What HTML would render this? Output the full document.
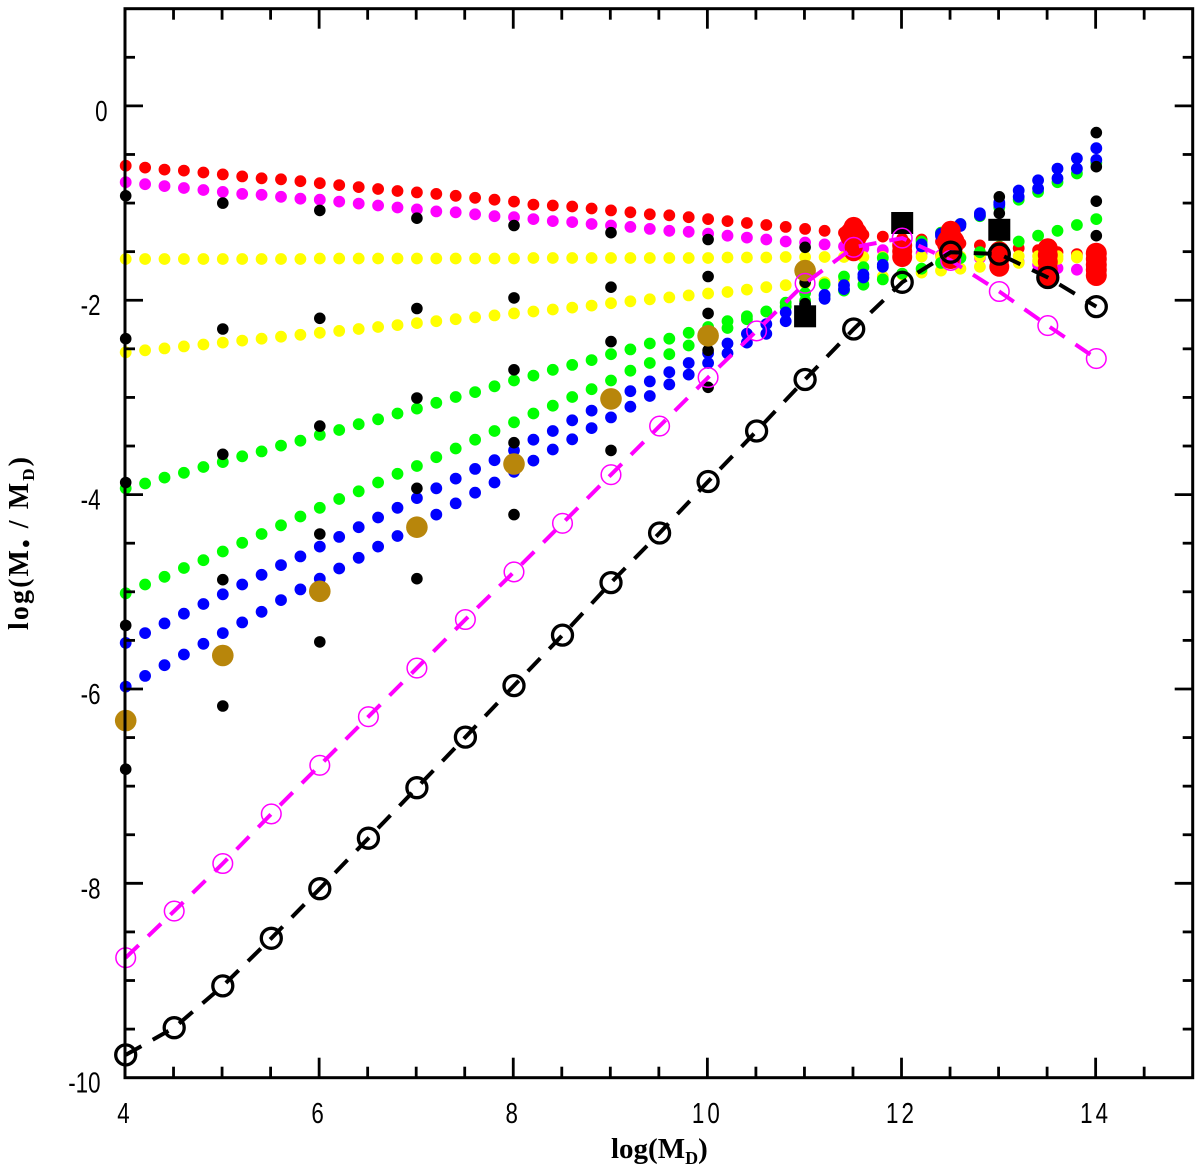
<!DOCTYPE html>
<html lang="en">
<head>
<meta charset="utf-8">
<title>log(Ms / MD) versus log(MD)</title>
<style>
html,body{margin:0;padding:0;background:#fff;}
#chart{display:block;width:1200px;height:1172px;background:#fff;}
</style>
</head>
<body>
<svg id="chart" xmlns="http://www.w3.org/2000/svg" width="1200" height="1172" viewBox="0 0 1200 1172">
  <g id="marks" transform="translate(0.7,1.5)"></g>
  <g id="axes"></g>
  <text x="611" y="1158" font-family="'Liberation Serif',serif" font-weight="bold" font-size="29" fill="#000">log(M<tspan font-size="18" dy="6">D</tspan><tspan dy="-6">)</tspan></text>
  <text transform="translate(28,630) rotate(-90)" font-family="'Liberation Serif',serif" font-weight="bold" font-size="28" fill="#000" textLength="173" lengthAdjust="spacing">log(M<tspan font-size="24" dy="6">•</tspan><tspan dy="-6"> / M</tspan><tspan font-size="17" dy="6">D</tspan><tspan dy="-6">)</tspan></text>
</svg>
<script>
const xDense = [4,4.2,4.4,4.6,4.8,5,5.2,5.4,5.6,5.8,6,6.2,6.4,6.6,6.8,7,7.2,7.4,7.6,7.8,8,8.2,8.4,8.6,8.8,9,9.2,9.4,9.6,9.8,10,10.2,10.4,10.6,10.8,11,11.2,11.4,11.6,11.8,12,12.2,12.4,12.6,12.8,13,13.2,13.4,13.6,13.8,14];
const magentaDots = [-.77,-.79,-.81,-.83,-.85,-.87,-.89,-.90,-.92,-.94,-.95,-.97,-.99,-1.01,-1.03,-1.05,-1.07,-1.08,-1.10,-1.12,-1.13,-1.15,-1.17,-1.18,-1.20,-1.215,-1.23,-1.25,-1.27,-1.28,-1.30,-1.32,-1.34,-1.36,-1.38,-1.39,-1.41,-1.43,-1.45,-1.47,-1.49,-1.50,-1.52,-1.54,-1.55,-1.57,-1.59,-1.62,-1.655,-1.67,-1.69];
const redDots = [-.60,-.62,-.64,-.65,-.67,-.69,-.71,-.73,-.74,-.76,-.78,-.80,-.82,-.84,-.86,-.875,-.89,-.91,-.93,-.95,-.97,-1.0,-1.01,-1.02,-1.04,-1.06,-1.08,-1.10,-1.11,-1.13,-1.15,-1.17,-1.19,-1.21,-1.23,-1.25,-1.27,-1.29,-1.31,-1.33,-1.35,-1.36,-1.38,-1.40,-1.42,-1.44,-1.45,-1.47,-1.49,-1.51,-1.53];
const yellowUpper = [-1.56,-1.56,-1.56,-1.56,-1.56,-1.56,-1.56,-1.56,-1.56,-1.56,-1.555,-1.555,-1.555,-1.555,-1.555,-1.555,-1.555,-1.555,-1.555,-1.555,-1.555,-1.55,-1.55,-1.55,-1.55,-1.55,-1.55,-1.55,-1.55,-1.55,-1.55,-1.545,-1.545,-1.545,-1.54,-1.54,-1.54,-1.54,-1.54,-1.54,-1.54,-1.535,-1.535,-1.535,-1.535,-1.535,-1.53,-1.53,-1.53,-1.53,-1.53];
const yellowLower = [-2.52,-2.50,-2.48,-2.46,-2.44,-2.42,-2.40,-2.38,-2.36,-2.34,-2.32,-2.30,-2.28,-2.26,-2.24,-2.22,-2.20,-2.18,-2.16,-2.14,-2.12,-2.10,-2.08,-2.06,-2.04,-2.015,-1.995,-1.975,-1.955,-1.935,-1.915,-1.90,-1.875,-1.85,-1.83,-1.81,-1.80,-1.78,-1.76,-1.74,-1.72,-1.70,-1.68,-1.66,-1.64,-1.62,-1.60,-1.58,-1.56,-1.545,-1.53];
const greenUpper = [-3.92,-3.87,-3.81,-3.76,-3.70,-3.65,-3.59,-3.54,-3.48,-3.43,-3.37,-3.32,-3.26,-3.21,-3.15,-3.10,-3.04,-2.98,-2.93,-2.87,-2.81,-2.76,-2.70,-2.65,-2.60,-2.54,-2.49,-2.43,-2.38,-2.32,-2.26,-2.20,-2.15,-2.10,-2.05,-1.99,-1.94,-1.885,-1.825,-1.77,-1.71,-1.66,-1.60,-1.55,-1.49,-1.43,-1.38,-1.32,-1.27,-1.21,-1.15];
const greenLower = [-5.0,-4.91,-4.83,-4.74,-4.66,-4.57,-4.48,-4.39,-4.30,-4.21,-4.12,-4.03,-3.95,-3.86,-3.77,-3.69,-3.60,-3.51,-3.42,-3.33,-3.24,-3.15,-3.07,-2.98,-2.90,-2.81,-2.71,-2.63,-2.54,-2.45,-2.37,-2.27,-2.18,-2.10,-2.01,-1.91,-1.82,-1.74,-1.645,-1.55,-1.47,-1.38,-1.29,-1.20,-1.12,-1.03,-.95,-.87,-.77,-.68,-.57];
const blueUpper = [-5.51,-5.41,-5.31,-5.21,-5.11,-5.01,-4.91,-4.81,-4.71,-4.62,-4.52,-4.42,-4.32,-4.22,-4.12,-4.02,-3.92,-3.82,-3.72,-3.63,-3.53,-3.42,-3.33,-3.22,-3.12,-3.0,-2.92,-2.82,-2.725,-2.63,-2.53,-2.43,-2.33,-2.23,-2.11,-2.03,-1.93,-1.83,-1.72,-1.62,-1.52,-1.41,-1.30,-1.20,-1.09,-.98,-.855,-.75,-.63,-.525,-.42];
const blueLower = [-5.96,-5.85,-5.74,-5.63,-5.52,-5.41,-5.30,-5.19,-5.07,-4.96,-4.85,-4.745,-4.635,-4.52,-4.41,-4.30,-4.19,-4.075,-3.965,-3.86,-3.75,-3.635,-3.52,-3.415,-3.30,-3.19,-3.08,-2.97,-2.85,-2.75,-2.63,-2.53,-2.42,-2.33,-2.20,-2.09,-1.97,-1.87,-1.75,-1.64,-1.54,-1.43,-1.32,-1.22,-1.11,-1.0,-.92,-.835,-.73,-.63,-.54];

const blackColumnX = [4,5,6,7,8,9,10,11,13,14];
const blackColumnY = [
  [-.91,-2.38,-3.86,-5.33,-6.81],
  [-.985,-2.28,-3.57,-4.86,-6.16],
  [-1.06,-2.17,-3.28,-4.39,-5.5],
  [-1.14,-2.07,-2.99,-3.92,-4.85],
  [-1.215,-1.96,-2.70,-3.45,-4.19],
  [-1.29,-1.85,-2.41,-2.97,-3.53],
  [-1.36,-1.74,-2.12,-2.50,-2.88],
  [-1.44,-1.80,-2.02],
  [-.92,-1.09],
  [-.26,-.61,-.965,-1.32]
];

const brownX = [4,5,6,7,8,9,10,11];
const brownY = [-6.31,-5.64,-4.98,-4.32,-3.67,-3.0,-2.35,-1.68];

const bigRedX = [11.5,11.5,11.5,11.5,12,12,12,12.5,12.5,12.5,12.5,13,13,13,13.5,13.5,13.5,13.5,13.5,14,14,14,14,14];
const bigRedY = [-1.23,-1.31,-1.43,-1.48,-1.42,-1.48,-1.54,-1.27,-1.39,-1.48,-1.56,-1.48,-1.56,-1.64,-1.45,-1.52,-1.59,-1.67,-1.76,-1.50,-1.56,-1.62,-1.67,-1.73];
const bigRedSize = [10,14,10,10,10,10,10,10,14,10,10,10,10,10,10,10,10,10,10,10.5,10.5,10.5,10.5,10.5];

const squareX = [11,12,13];
const squareY = [-2.15,-1.19,-1.26];

const xSparse = [4,4.5,5,5.5,6,6.5,7,7.5,8,8.5,9,9.5,10,10.5,11,11.5,12,12.5,13,13.5,14];
const magentaLine = [-8.75,-8.27,-7.78,-7.27,-6.77,-6.27,-5.77,-5.27,-4.78,-4.28,-3.78,-3.28,-2.78,-2.30,-1.81,-1.44,-1.345,-1.575,-1.895,-2.245,-2.585];
const blackLine = [-9.75,-9.47,-9.04,-8.55,-8.04,-7.52,-7.0,-6.48,-5.95,-5.43,-4.89,-4.38,-3.85,-3.33,-2.80,-2.28,-1.80,-1.49,-1.51,-1.75,-2.05];

const xTickValues = [4,4.5,5,5.5,6,6.5,7,7.5,8,8.5,9,9.5,10,10.5,11,11.5,12,12.5,13,13.5,14,14.5];
const xTickLabels = [4,6,8,10,12,14];
const yTickValues = [-9.5,-9,-8.5,-8,-7.5,-7,-6.5,-6,-5.5,-5,-4.5,-4,-3.5,-3,-2.5,-2,-1.5,-1,-.5,0,.5];
const yTickLabels = [-10,-8,-6,-4,-2,0];

const NS = 'http://www.w3.org/2000/svg';
const X0 = 125, X1 = 1192.7, Y0 = 1077.7, Y1 = 8.7;
function sx(v){ return X0 + (v - 4) * (X1 - X0) / 11; }
function sy(v){ return Y0 - (v + 10) * (Y0 - Y1) / 11; }
function mk(parent, tag, attrs){
  const e = document.createElementNS(NS, tag);
  for (const k in attrs) e.setAttribute(k, attrs[k]);
  parent.appendChild(e);
  return e;
}
const marks = document.getElementById('marks');
const axes = document.getElementById('axes');

function dots(xs, ys, color, r, name){
  const g = mk(marks, 'g', {fill: color});
  
  
  ys.forEach(function(v, i){
    const c = mk(g, 'circle', {cx: sx(xs[i]).toFixed(1), cy: sy(v).toFixed(1), r: r});
    
    
  });
}

dots(xDense, magentaDots, '#ff00ff', 5.9, 'magenta-dotted-series');
dots(xDense, redDots, '#ff0000', 5.9, 'red-dotted-series');
dots(xDense, yellowUpper, '#ffff00', 5.9, 'yellow-upper-dotted-series');
dots(xDense, yellowLower, '#ffff00', 5.9, 'yellow-lower-dotted-series');
dots(xDense, greenUpper, '#00ff00', 5.9, 'green-upper-dotted-series');
dots(xDense, greenLower, '#00ff00', 5.9, 'green-lower-dotted-series');
dots(xDense, blueUpper, '#0000ff', 5.9, 'blue-upper-dotted-series');
dots(xDense, blueLower, '#0000ff', 5.9, 'blue-lower-dotted-series');

blackColumnX.forEach(function(xv, i){
  const g = mk(marks, 'g', {fill: '#000'});
  
  
  blackColumnY[i].forEach(function(v){
    const c = mk(g, 'circle', {cx: sx(xv).toFixed(1), cy: sy(v).toFixed(1), r: 5.8});
    
    
  });
});

dots(brownX, brownY, '#b8860b', 10.8, 'brown-series');

bigRedX.forEach(function(xv, i){
  const c = mk(marks, 'circle', {cx: sx(xv).toFixed(1), cy: sy(bigRedY[i]).toFixed(1), r: bigRedSize[i], fill: '#ff0000'});
  
  
});

squareX.forEach(function(xv, i){
  const r = mk(marks, 'rect', {x: (sx(xv) - 11).toFixed(1), y: (sy(squareY[i]) - 11).toFixed(1), width: 22, height: 22, fill: '#000'});
  
  
});

function lineSeries(ys, color, width, r, ringWidth, name){
  const pts = ys.map(function(v, i){ return sx(xSparse[i]).toFixed(1) + ',' + sy(v).toFixed(1); }).join(' ');
  const l = mk(marks, 'polyline', {points: pts, fill: 'none', stroke: color, 'stroke-width': width, 'stroke-dasharray': '18 13'});
  
  
  ys.forEach(function(v, i){
    const c = mk(marks, 'circle', {cx: sx(xSparse[i]).toFixed(1), cy: sy(v).toFixed(1), r: r, fill: 'none', stroke: color, 'stroke-width': ringWidth});
    
    
  });
}
lineSeries(magentaLine, '#ff00ff', 4, 9.8, 1.5, 'magenta-dashed');
lineSeries(blackLine, '#000000', 4, 10, 3.3, 'black-dashed');

const frame = mk(axes, 'rect', {x: X0, y: Y1, width: X1 - X0, height: Y0 - Y1, fill: 'none', stroke: '#000', 'stroke-width': 3});



function tickLine(x1, y1, x2, y2){
  const t = mk(axes, 'line', {x1: x1, y1: y1, x2: x2, y2: y2, stroke: '#000', 'stroke-width': 2.8});
  
  
}
xTickValues.forEach(function(v){
  const major = Number.isInteger(v) && v % 2 === 0;
  const len = major ? 20 : 11;
  tickLine(sx(v), Y0, sx(v), Y0 - len);
  tickLine(sx(v), Y1, sx(v), Y1 + len);
});
yTickValues.forEach(function(v){
  const major = Number.isInteger(v) && v % 2 === 0;
  const len = major ? 18 : 10;
  tickLine(X0, sy(v), X0 + len, sy(v));
  tickLine(X1, sy(v), X1 - len, sy(v));
});

function label(text, x, y, anchor, spacing, name){
  const t = mk(axes, 'text', {
    transform: 'translate(' + x + ',' + y + ') scale(0.77,1)',
    'text-anchor': anchor,
    'font-family': "'Liberation Sans',sans-serif",
    'font-size': 29,
    'letter-spacing': spacing,
    fill: '#000'
  });
  
  
  t.textContent = text;
}
xTickLabels.forEach(function(v){
  label(String(v), sx(v).toFixed(1), 1123, 'middle', 4, 'x-tick-label');
});
yTickLabels.forEach(function(v){
  const right = v === 0 ? 107.5 : 100.5;
  label(String(v), right, (sy(v) + 15).toFixed(1), 'end', 0, 'y-tick-label');
});
</script>
</body>
</html>
